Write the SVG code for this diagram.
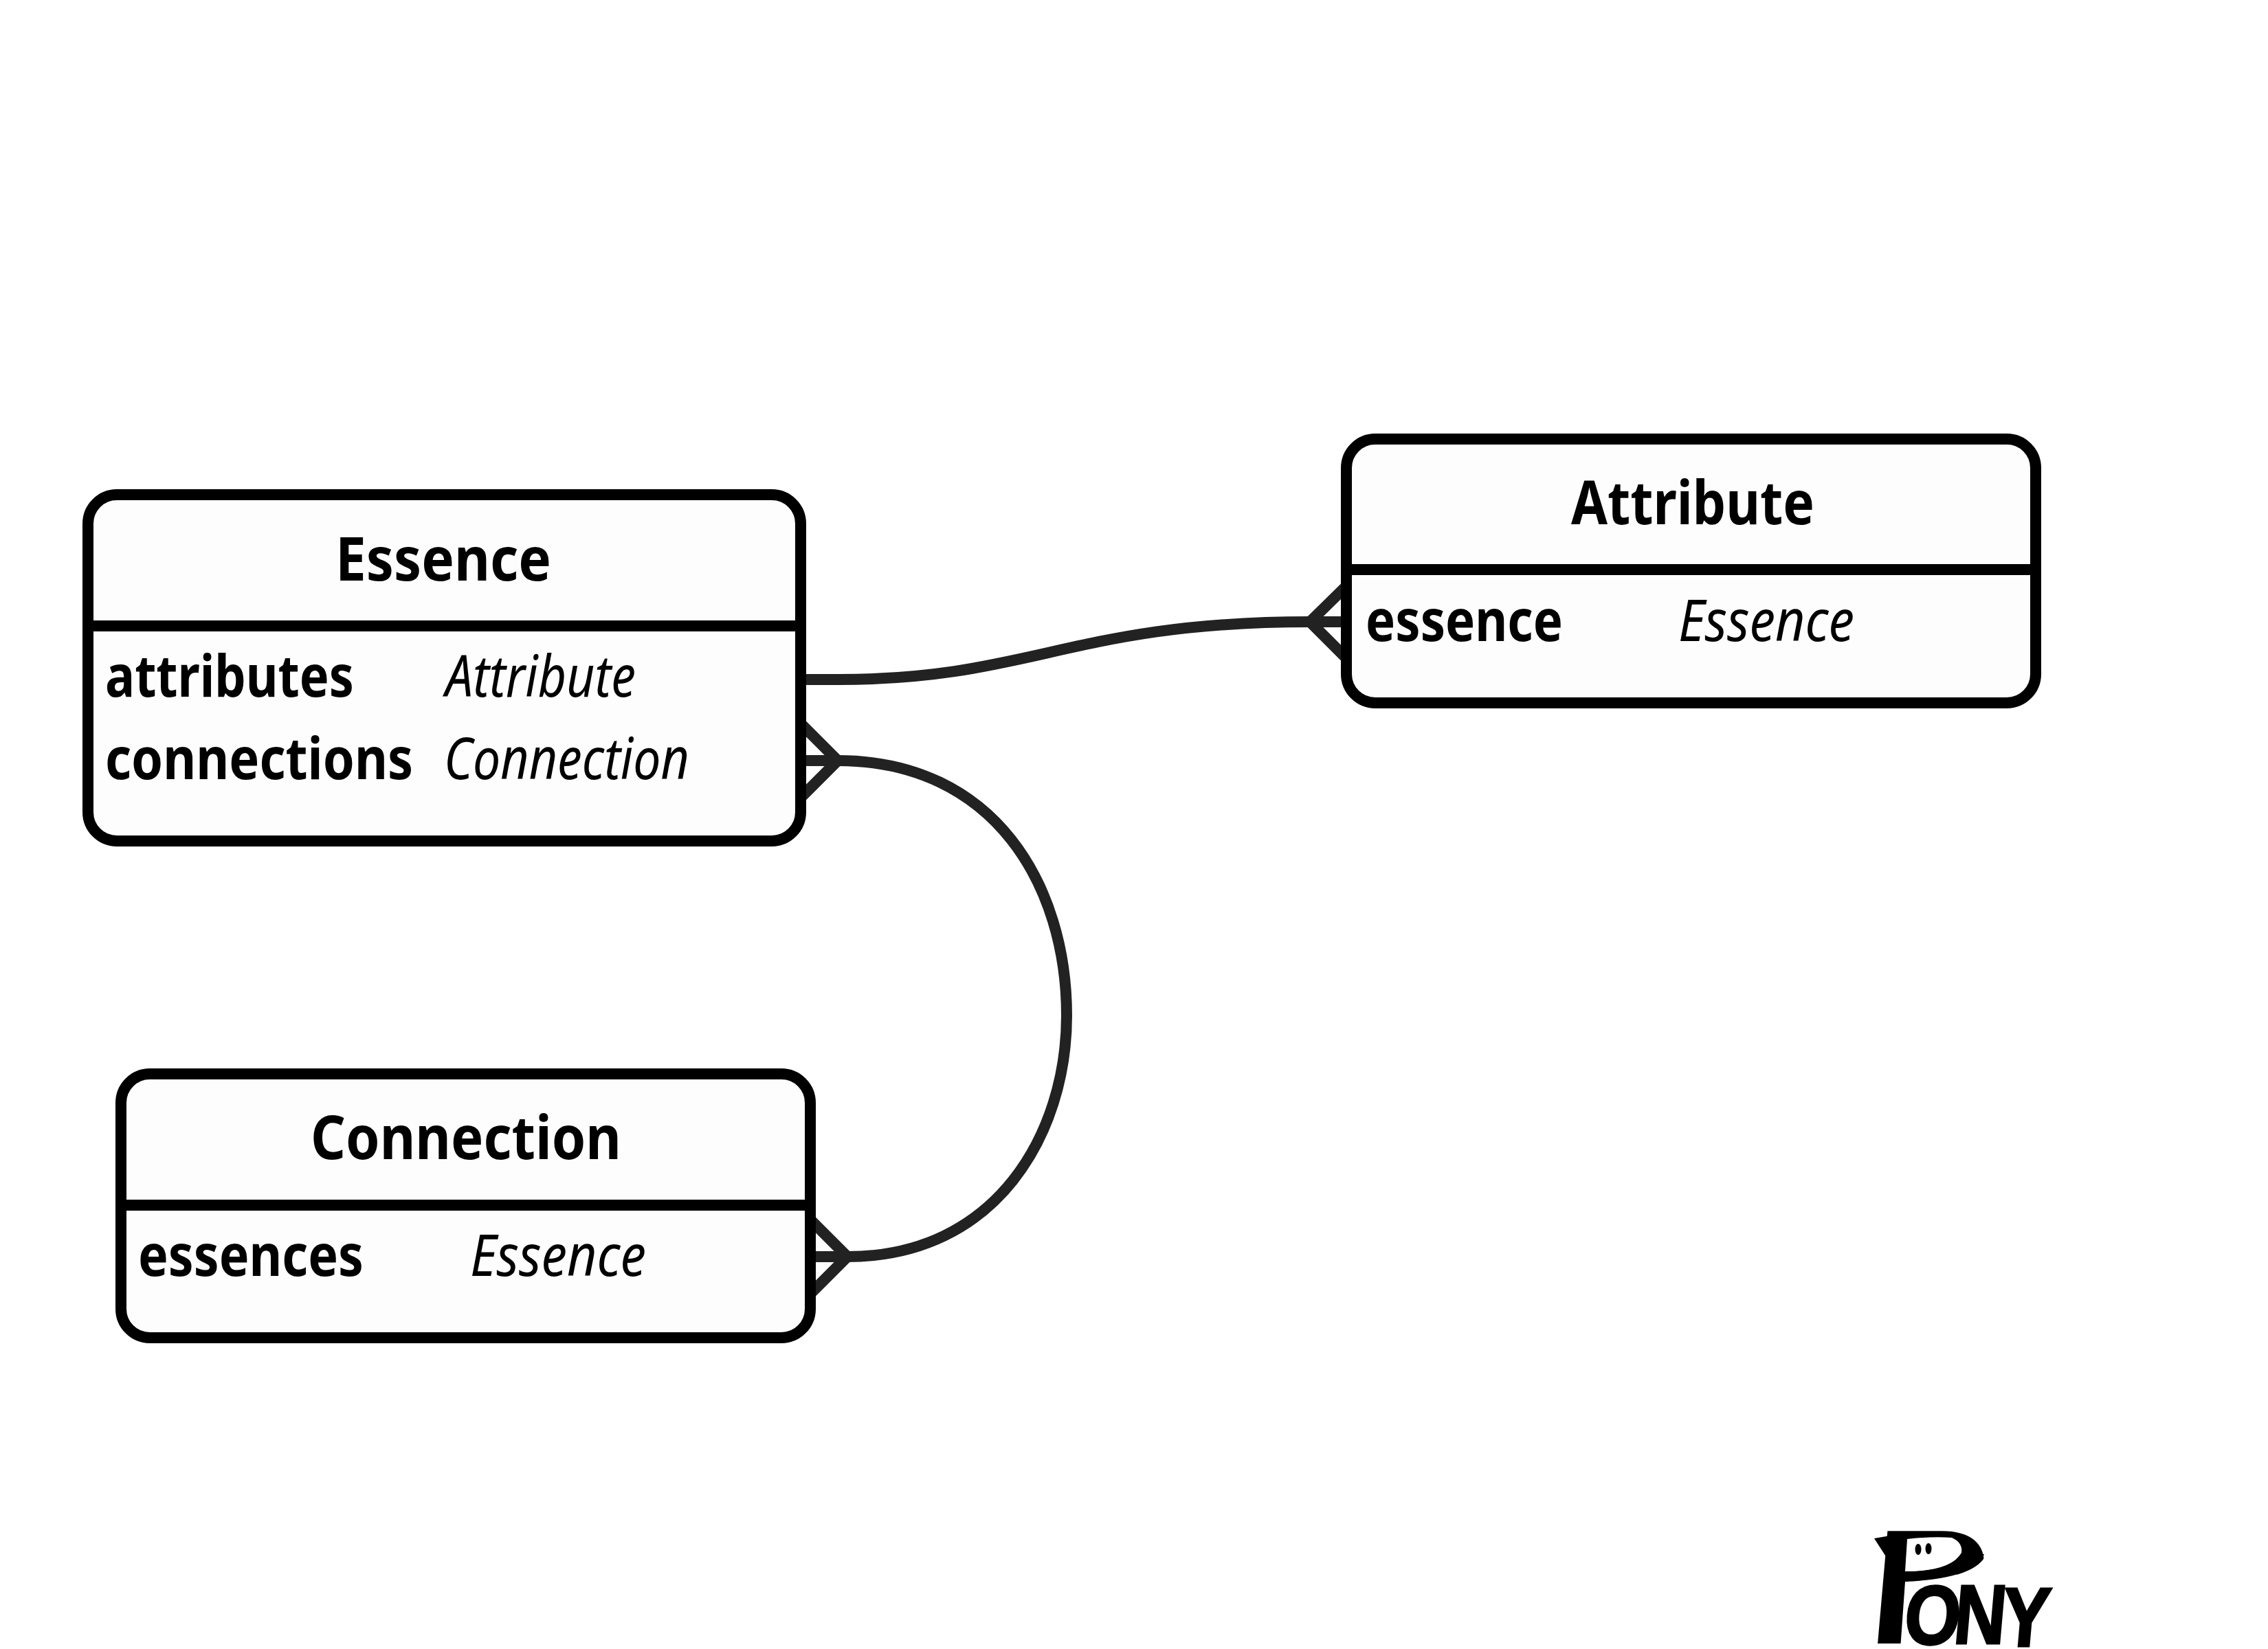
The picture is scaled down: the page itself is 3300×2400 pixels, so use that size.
<svg xmlns="http://www.w3.org/2000/svg" width="3300" height="2400" viewBox="0 0 3300 2400">
<defs>
<clipPath id="pclip"><path d="M2700 2200H2890V2262Q2875 2298 2772 2302L2765 2400H2700Z"/></clipPath>
</defs>
<style>
.box{fill:#fdfdfd;stroke:#000;stroke-width:16}
.div{stroke:#000;stroke-width:16;fill:none}
.conn{fill:none;stroke:#222;stroke-width:16}
text{font-family:"Noto Sans","Open Sans","Liberation Sans",sans-serif;fill:#000}
.t{font-size:87px;font-weight:700}
.f{font-size:84px;font-weight:700}
.y{font-size:84px;font-style:italic;font-weight:400}
.logo{font-family:"Liberation Sans",Arial,sans-serif;font-weight:700}
</style>
<rect width="3300" height="2400" fill="#fff"/>
<g id="connectors">
<path class="conn" d="M1165 989L1220 989C1500 989 1560 905 1906 905L1959 905"/>
<path class="conn" d="M1959 853L1906 905L1959 958"/>
<path class="conn" d="M1165 1107L1219 1107C1448 1107 1552 1290 1552 1478C1552 1650 1450 1829 1233 1829L1179 1829"/>
<path class="conn" d="M1165 1053L1219 1107L1165 1161"/>
<path class="conn" d="M1179 1775L1233 1829L1179 1883"/>
</g>
<g id="essence">
<rect class="box" x="128" y="720" width="1037" height="504" rx="42"/>
<path class="div" d="M128 911H1165"/>
<text class="t" x="488" y="845" textLength="314" lengthAdjust="spacingAndGlyphs">Essence</text>
<text class="f" x="153" y="1014" textLength="362" lengthAdjust="spacingAndGlyphs">attributes</text>
<text class="y" x="648" y="1014" textLength="277" lengthAdjust="spacingAndGlyphs">Attribute</text>
<text class="f" x="153" y="1134" textLength="448" lengthAdjust="spacingAndGlyphs">connections</text>
<text class="y" x="646" y="1134" textLength="357" lengthAdjust="spacingAndGlyphs">Connection</text>
</g>
<g id="attribute">
<rect class="box" x="1959" y="639" width="1003" height="384" rx="42"/>
<path class="div" d="M1959 829H2962"/>
<text class="t" x="2286" y="763" textLength="354" lengthAdjust="spacingAndGlyphs">Attribute</text>
<text class="f" x="1987" y="933" textLength="287" lengthAdjust="spacingAndGlyphs">essence</text>
<text class="y" x="2442" y="933" textLength="256" lengthAdjust="spacingAndGlyphs">Essence</text>
</g>
<g id="connection">
<rect class="box" x="176" y="1563" width="1003" height="384" rx="42"/>
<path class="div" d="M176 1754H1179"/>
<text class="t" x="452" y="1687" textLength="452" lengthAdjust="spacingAndGlyphs">Connection</text>
<text class="f" x="201" y="1857" textLength="328" lengthAdjust="spacingAndGlyphs">essences</text>
<text class="y" x="684" y="1857" textLength="256" lengthAdjust="spacingAndGlyphs">Essence</text>
</g>
<g id="pony-logo">
<g clip-path="url(#pclip)">
<text class="logo" transform="translate(2715 2392) skewX(-5) scale(1.075 1)" font-size="238">P</text>
</g>
<polygon points="2727,2239 2762,2233 2747,2270" fill="#000"/>
<path d="M2770 2287Q2838 2287 2854 2260L2887 2262Q2875 2298 2770 2302Z" fill="#000"/>
<path d="M2775 2240Q2810 2236 2840 2238Q2856 2245 2854 2260Q2838 2287 2772 2287Z" fill="#fff"/>
<ellipse cx="2791" cy="2255" rx="4.5" ry="8" fill="#000"/>
<ellipse cx="2806" cy="2254" rx="4.5" ry="8" fill="#000"/>
<text class="logo" transform="translate(2768 2392) skewX(-5) scale(.86 1)" font-size="122" x="0 84 165" y="1 0 4" stroke="#000" stroke-width="3">ONY</text>
</g>
</svg>
